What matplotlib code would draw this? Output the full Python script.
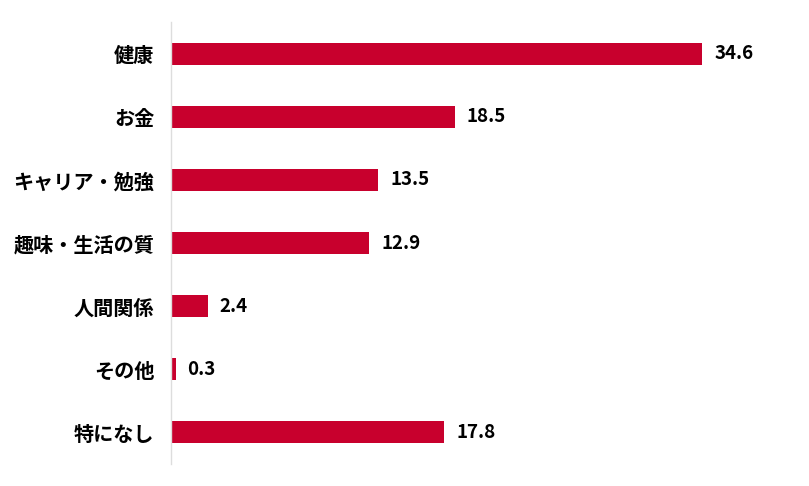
import matplotlib
matplotlib.use("Agg")
import matplotlib.pyplot as plt

plt.rcParams['font.family'] = ['Noto Sans CJK JP', 'DejaVu Sans']

categories = ["健康", "お金", "キャリア・勉強", "趣味・生活の質", "人間関係", "その他", "特になし"]
values = [34.6, 18.5, 13.5, 12.9, 2.4, 0.3, 17.8]

fig = plt.figure(figsize=(8.09, 4.86), dpi=100)
ax = fig.add_axes([171/809, 22/486, 614/809, 442/486])

ypos = list(range(len(categories)))
ax.barh(ypos, values, height=0.35, color="#C8002D")
ax.set_ylim(6.5, -0.5)
ax.set_xlim(0, 40)
ax.set_yticks(ypos)
ax.set_yticklabels(categories, fontsize=14.5, fontweight='bold')
ax.tick_params(axis='y', length=0, pad=12)
ax.set_xticks([])
for s in ['top', 'right', 'bottom']:
    ax.spines[s].set_visible(False)
ax.spines['left'].set_color('#DDDDDD')
ax.spines['left'].set_linewidth(1)

for y, v in zip(ypos, values):
    ax.annotate(f"{v}", (v, y), xytext=(12, 0), textcoords='offset pixels',
                va='center', ha='left', fontsize=13.5, fontweight='bold')

fig.savefig("out.png", dpi=100)
